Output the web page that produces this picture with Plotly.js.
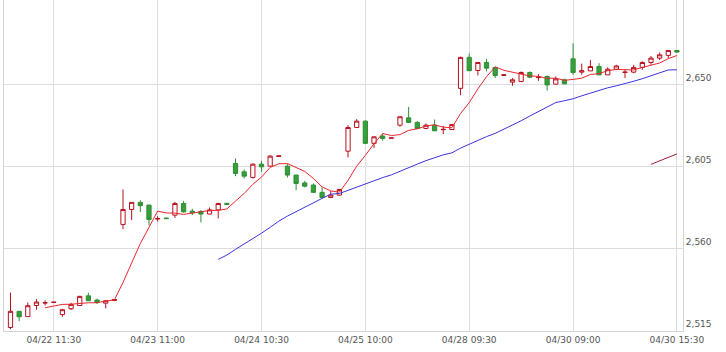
<!DOCTYPE html>
<html><head><meta charset="utf-8">
<script src="https://cdn.plot.ly/plotly-3.0.1.min.js"></script>
<style>html,body{margin:0;padding:0;background:#fff}#chart{width:726px;height:352px}</style>
</head><body><div id="chart"></div>
<script>
// x-axis tick labels (every 12th bar)
const tickIndex = [5, 17, 29, 41, 53, 65, 77];
const tickLabels = ['04/22 11:30', '04/23 11:00', '04/24 10:30', '04/25 10:00', '04/28 09:30', '04/30 09:00', '04/30 15:30'];
const yTicks = [2515, 2560, 2605, 2650];
const yTickLabels = ['2,515', '2,560', '2,605', '2,650'];

// OHLC per bar (78 bars)
const openP = [2516.4,2525.3,2522.4,2528.5,2529.9,2530.2,2523.5,2526.7,2528.5,2533.8,2531.5,2529.8,2531.2,
2573.0,2581.2,2585.1,2583.6,2576.0,2576.5,2578.1,2584.5,2580.3,2580.1,2578.7,2581.0,2584.6,
2606.5,2601.9,2598.8,2606.1,2605.0,2610.3,2605.0,2600.1,2595.8,2594.6,2590.6,2587.8,2589.1,
2613.2,2626.2,2629.7,2617.5,2621.5,2620.3,2627.5,2631.5,2629.0,2625.7,2627.5,2625.0,2625.1,
2647.7,2664.7,2657.5,2661.9,2659.2,2654.8,2651.1,2651.5,2656.4,2653.6,2654.2,2650.0,2652.4,
2663.9,2656.6,2657.3,2659.7,2655.1,2658.2,2656.4,2656.6,2659.2,2661.9,2664.3,2665.8,2668.5];
const highP = [2535.6,2525.5,2530.1,2532.0,2531.3,2530.4,2526.7,2530.0,2533.8,2535.5,2532.3,2531.2,2531.9,
2592.2,2585.2,2586.2,2583.8,2577.5,2576.6,2585.4,2586.0,2581.6,2580.9,2582.3,2584.9,2584.8,
2609.2,2603.2,2606.4,2607.9,2611.0,2610.7,2606.1,2600.2,2596.9,2595.5,2593.3,2591.4,2592.5,
2627.5,2630.8,2630.2,2621.2,2622.9,2620.6,2632.2,2637.5,2629.7,2628.4,2630.6,2627.0,2628.0,
2665.1,2666.9,2662.0,2663.9,2659.6,2655.3,2653.3,2657.0,2657.0,2655.5,2654.7,2654.2,2653.0,
2672.4,2661.3,2663.3,2661.5,2659.2,2660.6,2658.2,2660.6,2662.5,2665.5,2667.4,2668.6,2668.6];
const lowP = [2515.5,2519.9,2522.3,2526.2,2528.5,2530.1,2522.3,2526.0,2528.3,2531.0,2529.3,2526.9,2531.1,
2570.4,2575.4,2579.8,2572.5,2574.6,2576.1,2576.6,2579.5,2578.1,2574.1,2578.6,2576.3,2583.8,
2599.5,2598.2,2598.2,2601.9,2604.9,2610.2,2598.8,2591.8,2593.3,2590.4,2587.3,2587.7,2588.7,
2609.8,2626.1,2617.4,2615.0,2618.9,2620.2,2626.6,2628.9,2625.3,2625.3,2624.3,2622.6,2625.0,
2643.9,2657.3,2654.8,2657.0,2653.3,2654.7,2649.1,2651.1,2653.3,2651.8,2646.5,2649.9,2650.0,
2655.2,2655.2,2657.2,2655.0,2655.0,2658.1,2653.3,2656.0,2657.9,2660.6,2663.3,2664.3,2667.5];
const closeP = [2525.3,2522.3,2528.4,2530.4,2530.0,2530.3,2526.2,2529.1,2533.5,2531.1,2530.2,2531.1,2531.8,
2581.2,2585.1,2583.3,2575.7,2576.2,2576.2,2584.5,2579.9,2579.4,2578.7,2581.0,2584.5,2584.0,
2601.0,2599.5,2606.1,2604.6,2610.5,2610.6,2600.1,2595.5,2594.0,2590.6,2587.8,2589.1,2592.2,
2626.2,2629.7,2617.5,2621.1,2620.2,2620.5,2632.1,2629.0,2625.7,2627.5,2624.4,2625.2,2627.9,
2664.7,2657.4,2661.9,2658.8,2654.8,2655.1,2652.4,2656.4,2653.8,2653.8,2649.6,2652.9,2650.2,
2656.4,2657.4,2659.7,2655.1,2658.2,2660.0,2656.6,2659.2,2661.9,2664.3,2666.1,2668.5,2667.6];

// moving averages (first value sits on bar index given by *Start)
const ma5Start = 4;
const ma5 = [2527.3,2528.3,2529.1,2529.2,2529.8,2530.0,2530.0,2531.0,2531.5,2541.1,2551.9,2562.5,2571.4,
2580.3,2579.3,2579.2,2578.5,2579.2,2579.7,2580.7,2580.7,2581.5,2585.8,2590.0,2595.0,2599.0,2604.3,
2606.3,2606.4,2604.3,2602.1,2598.2,2593.6,2591.4,2590.7,2597.2,2605.0,2610.9,2617.3,2622.9,2621.8,
2622.3,2624.6,2625.5,2627.0,2627.7,2626.4,2626.1,2633.9,2639.9,2647.4,2654.1,2659.5,2657.6,2656.6,
2655.5,2654.5,2654.3,2653.2,2653.3,2652.1,2652.6,2653.3,2655.3,2655.8,2657.4,2658.1,2657.9,2657.8,
2659.2,2660.4,2661.6,2664.0,2665.7];
const ma25Start = 24;
const ma25 = [2553.8,2556.2,2559.3,2562.2,2565.2,2568.2,2571.4,2574.8,2577.6,2580.1,2582.6,2585.0,2587.3,
2589.6,2590.0,2591.7,2593.5,2595.2,2597.0,2598.7,2600.2,2602.3,2604.2,2606.1,2608.0,2609.6,2611.2,
2612.3,2614.9,2617.0,2619.3,2621.2,2623.0,2625.2,2627.4,2629.9,2632.5,2635.1,2637.5,2639.9,2640.9,
2642.0,2643.6,2645.1,2646.5,2648.0,2649.1,2650.2,2651.6,2653.0,2654.6,2656.2,2657.8,2657.9];
const ma75Start = 74;
const ma75 = [2606.0,2607.9,2609.8,2611.7];

const idx = openP.map((_, i) => i);
const seq = (start, arr) => arr.map((_, k) => start + k);

const traces = [
  {
    type: 'candlestick', x: idx, open: openP, high: highP, low: lowP, close: closeP,
    increasing: {line: {color: '#b8101c', width: 1}, fillcolor: '#ffffff'},
    decreasing: {line: {color: '#2f8f35', width: 1}, fillcolor: '#37a03c'},
    whiskerwidth: 0, hoverinfo: 'skip'
  },
  {type: 'scatter', mode: 'lines', x: seq(ma75Start, ma75), y: ma75, line: {color: '#9b2335', width: 1}, hoverinfo: 'skip'},
  {type: 'scatter', mode: 'lines', x: seq(ma25Start, ma25), y: ma25, line: {color: '#3c32e0', width: 1}, hoverinfo: 'skip'},
  {type: 'scatter', mode: 'lines', x: seq(ma5Start, ma5), y: ma5, line: {color: '#e8272d', width: 1}, hoverinfo: 'skip'}
];

const tf = {family: 'DejaVu Sans, Verdana, sans-serif', size: 9, color: '#555555'};
const layout = {
  width: 726, height: 352,
  margin: {l: 4, r: 43, t: 0, b: 21},
  paper_bgcolor: '#ffffff', plot_bgcolor: '#ffffff',
  showlegend: false,
  xaxis: {
    range: [-0.75, 77.7], tickmode: 'array', tickvals: tickIndex, ticktext: tickLabels,
    showgrid: true, gridcolor: '#dddddd', gridwidth: 1,
    showline: true, linecolor: '#d4d4d4', linewidth: 1, zeroline: false,
    ticks: '', tickfont: tf, rangeslider: {visible: false}, fixedrange: true
  },
  yaxis: {
    side: 'right', range: [2514.5, 2696.2], tickmode: 'array', tickvals: yTicks, ticktext: yTickLabels,
    ticklabelposition: 'outside top',
    showgrid: true, gridcolor: '#dddddd', gridwidth: 1,
    showline: true, mirror: true, linecolor: '#d4d4d4', linewidth: 1, zeroline: false,
    ticks: '', tickfont: tf, fixedrange: true
  }
};
Plotly.newPlot('chart', traces, layout, {displayModeBar: false, staticPlot: true});
</script></body></html>
